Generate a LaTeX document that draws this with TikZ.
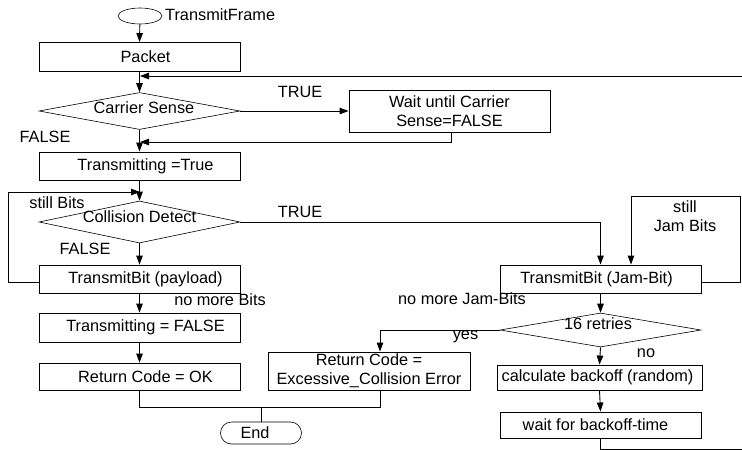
\documentclass[tikz,border=0pt]{standalone}
\usepackage{fontspec}
\setmainfont{Liberation Sans}
\usetikzlibrary{shapes.geometric,shapes.misc,arrows.meta}
\begin{document}
\begin{tikzpicture}[x=1pt,y=-1pt,
  font=\fontsize{16.3}{19}\selectfont,
  box/.style={draw,line width=0.9pt,rectangle,inner sep=0pt,minimum width=201pt,align=center},
  lbox/.style={box,execute at begin node=\hspace*{12pt}},
  dia/.style={draw,line width=0.6pt,diamond,inner sep=0pt,minimum width=201pt},
  arr/.style={line width=0.9pt,-{Triangle[length=9pt,width=6.5pt]}},
  ln/.style={line width=0.9pt},
  lbl/.style={inner sep=0pt,align=center}]
\useasboundingbox (0,0) rectangle (742,450);

% nodes
\node[draw,line width=0.6pt,ellipse,minimum width=44pt,minimum height=16pt,inner sep=0pt] (start) at (140,16) {};
\node[lbl,anchor=west] (startlbl) at (165,15) {TransmitFrame};
\node[lbox,minimum height=29pt] (packet) at (139.5,57) {Packet};
\node[dia,minimum height=37pt] (cs) at (139.5,111) {};
\node[lbl] (cstxt) at (144,108) {Carrier Sense};
\node[box,minimum height=42pt] (wait) at (449.5,111) {Wait until Carrier\\Sense=FALSE};
\node[lbox,minimum height=28pt] (tt) at (139.5,166) {Transmitting =True};
\node[dia,minimum height=42pt] (cd) at (139.5,222) {};
\node[lbl] (cdtxt) at (139.5,217) {Collision Detect};
\node[lbox,minimum height=28pt] (tbp) at (139.5,279) {TransmitBit (payload)};
\node[lbox,minimum height=29pt] (tf) at (139.5,327.5) {Transmitting = FALSE};
\node[lbox,minimum height=27pt] (ok) at (139.5,376.5) {Return Code = OK};
\node[box,minimum width=202pt,minimum height=38pt] (exc) at (369,371) {Return Code =\\Excessive\_Collision Error};
\node[draw,line width=0.6pt,rounded rectangle,minimum width=81pt,minimum height=22pt,inner sep=0pt] (end) at (261,433) {\hspace*{-12pt}End};
\node[box,minimum height=28pt] (tbj) at (600.5,279) {\hspace*{-8pt}TransmitBit (Jam-Bit)};
\node[dia,minimum height=34pt] (r16) at (600.5,330) {};
\node[lbl] (r16txt) at (598,324) {16 retries};
\node[box,minimum width=205pt,minimum height=25pt] (calc) at (599.5,377.5) {\hspace*{-4pt}calculate backoff (random)};
\node[box,minimum height=26pt] (wb) at (600.5,425) {\hspace*{-10pt}wait for backoff-time};

% labels
\node[lbl] (t1) at (300,92) {TRUE};
\node[lbl] (f1) at (45,137) {FALSE};
\node[lbl] (sb) at (57,203) {still Bits};
\node[lbl] (t2) at (300,212) {TRUE};
\node[lbl] (f2) at (85,249) {FALSE};
\node[lbl] (nmb) at (220,300) {no more Bits};
\node[lbl] (sjb) at (685,216) {still\\Jam Bits};
\node[lbl] (nmj) at (462,299) {no more Jam-Bits};
\node[lbl] (yes) at (465.5,337) {yes};
\node[lbl] (no) at (646,353) {no};

% coordinates
\coordinate (fb1) at (140,76);
\coordinate (re1) at (742,76);
\coordinate (fb2) at (140,142);
\coordinate (fb3) at (140,192);
\coordinate (jm) at (261,407);
\coordinate (jj) at (631,196);
\coordinate (re2) at (742,449);

% connectors
\draw[arr] (start) -- (packet.north);
\draw[arr] (packet.south) -- (cs.north);
\draw[arr] (re1) -- (fb1);
\draw[arr] (cs.east) -- (wait.west);
\draw[arr] ([xshift=1.5pt]wait.south) |- (fb2);
\draw[arr] (cs.south) -- (tt.north);
\draw[arr] (tt.south) -- (cd.north);
\draw[arr] ([yshift=-3pt]tbp.west) -- ++(-30,0) |- (fb3);
\draw[arr] (cd.east) -| (tbj.north);
\draw[arr] (cd.south) -- (tbp.north);
\draw[arr] (tbp.south) -- (tf.north);
\draw[arr] (tf.south) -- (ok.north);
\draw[ln] (ok.south) |- (jm);
\draw[ln] ([xshift=11pt]exc.south) |- (jm);
\draw[ln] (jm) -- (end.north);
\draw[arr] ([yshift=-3pt]tbj.east) -- ++(39,0) |- (jj) -- (jj |- tbj.north);
\draw[arr] (tbj.south) -- (r16.north);
\draw[arr] (r16.west) -| ([xshift=11pt]exc.north);
\draw[arr] (r16.south) -- (calc.north);
\draw[arr] (calc.south) -- (wb.north);
\draw[ln] (wb.south) |- (re2);
\end{tikzpicture}
\end{document}
